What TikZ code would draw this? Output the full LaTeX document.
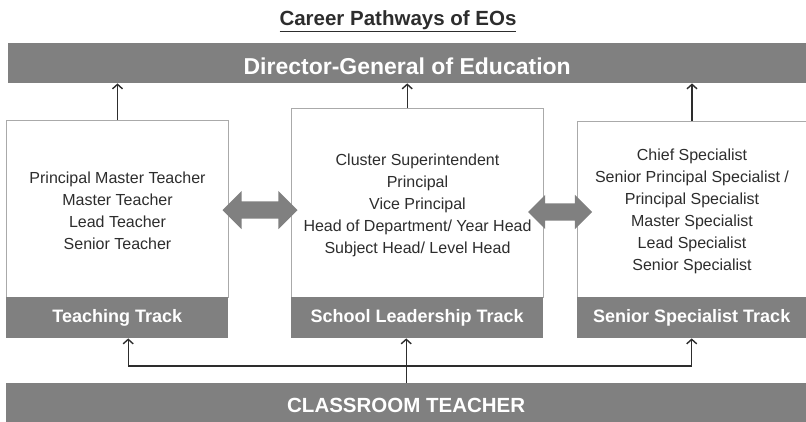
\documentclass[tikz,border=0pt]{standalone}
\usepackage{fontspec}
\setmainfont{Liberation Sans}
\usetikzlibrary{calc,shapes.arrows}
\usetikzlibrary{positioning,arrows,arrows.meta}

\definecolor{band}{RGB}{128,128,128}
\definecolor{rim}{RGB}{170,170,170}
\definecolor{ink}{RGB}{45,45,45}

\begin{document}
\begin{tikzpicture}[x=1pt,y=-1pt]
  \tikzstyle{bar}=[
    rectangle, fill=band, inner sep=0pt,
    anchor=north west,
    text=white,
    font=\fontsize{23}{26}\selectfont\bfseries
  ]
  \tikzstyle{tl}=[bar,
    minimum height=41,
    font=\fontsize{18}{20}\selectfont\bfseries
  ]
  \tikzstyle{tb}=[
    draw=rim, fill=white, rectangle,
    line width=1.0pt, inner sep=0pt,
    anchor=north west
  ]
  \tikzstyle{roles}=[align=center, text=ink, font=\fontsize{16}{22}\selectfont]
  \tikzstyle{swap}=[double arrow, fill=band, inner xsep=0pt, inner ysep=8.5pt]
  \tikzstyle{up}=[-{Straight Barb[length=4.5pt,width=10pt,line width=1.4pt]}, draw=ink, line width=1.2pt]

  \useasboundingbox (0,0) rectangle (806,421);

  \node[text=ink, font=\fontsize{20.5}{24}\selectfont\bfseries] (title) at (398,21) {\underline{Career Pathways of EOs}};
  \node[bar, minimum width=798, minimum height=40, text height=23.5pt, text depth=0pt] (dge) at (8,43) {Director-General of Education};

  % the three tracks
  \node[tb, minimum width=222, minimum height=177] (teaching) at (6,120) {};
  \node[tl, minimum width=222] (teaching track) at (6,297) {Teaching Track};
  \node[tb, minimum width=252, minimum height=189] (leadership) at (291,108) {};
  \node[tl, minimum width=252] (leadership track) at (291,297) {School Leadership Track};
  \node[tb, minimum width=229, minimum height=176] (specialist) at (577,121) {};
  \node[tl, minimum width=229] (specialist track) at (577,297) {Senior Specialist Track};

  \node[roles] (teaching roles) at ([yshift=-2]teaching.center) {Principal Master Teacher\\Master Teacher\\Lead Teacher\\Senior Teacher};
  \node[roles] (leadership roles) at ([yshift=-2]leadership.center) {Cluster Superintendent\\Principal\\Vice Principal\\Head of Department/ Year Head\\Subject Head/ Level Head};
  \node[roles] (specialist roles) at ([yshift=-2]specialist.center) {Chief Specialist\\Senior Principal Specialist /\\Principal Specialist\\Master Specialist\\Lead Specialist\\Senior Specialist};

  \node[bar, minimum width=800, minimum height=44, font=\fontsize{20.5}{24}\selectfont\bfseries] (classroom) at (6,383) {CLASSROOM TEACHER};

  % moves between tracks
  \node[swap, minimum height=75, double arrow head extend=10.5pt] (teach swap) at (260,210) {};
  \node[swap, minimum height=64, double arrow head extend=8.5pt] (spec swap) at (560,212) {};

  \draw[up] (teaching.north) -- (teaching.north |- dge.south);
  \draw[up] (dge.south |- leadership.north) -- (dge.south);
  \draw[up] (specialist.north) -- (specialist.north |- dge.south);

  \coordinate (fork) at (406,366);
  \draw[up] (classroom.north) -- (classroom.north |- leadership track.south);
  \draw[up] (fork) -| ([xshift=11]teaching track.south);
  \draw[up] (fork) -| (specialist track.south);
\end{tikzpicture}
\end{document}
